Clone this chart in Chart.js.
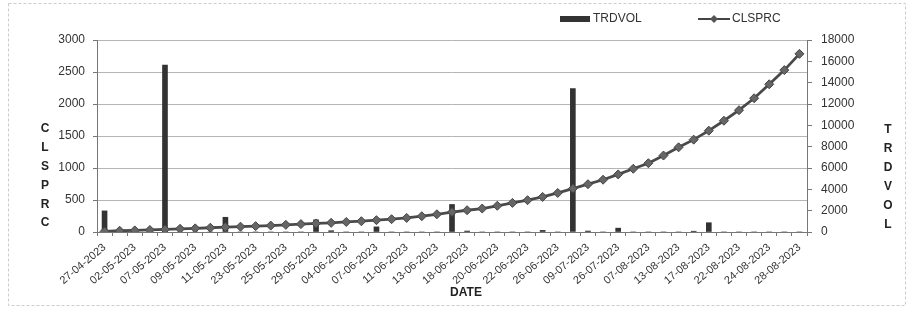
<!DOCTYPE html>
<html>
<head>
<meta charset="utf-8">
<script src="https://cdn.jsdelivr.net/npm/chart.js@4"></script>
<style>
  html, body { margin: 0; padding: 0; background: #fff; }
  canvas { display: block; }
</style>
</head>
<body>
<canvas id="chart" width="913" height="311"></canvas>
<script>
const dates = [
  '27-04-2023', '28-04-2023', '02-05-2023', '03-05-2023', '07-05-2023', '08-05-2023',
  '09-05-2023', '10-05-2023', '11-05-2023', '22-05-2023', '23-05-2023', '24-05-2023',
  '25-05-2023', '28-05-2023', '29-05-2023', '31-05-2023', '04-06-2023', '06-06-2023',
  '07-06-2023', '08-06-2023', '11-06-2023', '12-06-2023', '13-06-2023', '15-06-2023',
  '18-06-2023', '19-06-2023', '20-06-2023', '21-06-2023', '22-06-2023', '25-06-2023',
  '26-06-2023', '05-07-2023', '09-07-2023', '18-07-2023', '26-07-2023', '01-08-2023',
  '07-08-2023', '10-08-2023', '13-08-2023', '15-08-2023', '17-08-2023', '20-08-2023',
  '22-08-2023', '23-08-2023', '24-08-2023', '27-08-2023', '28-08-2023'
];

const trdvol = [
  330, 0, 0, 0, 2610, 0, 0, 0, 230, 0, 0, 0,
  0, 0, 190, 20, 0, 0, 80, 0, 0, 0, 0, 430,
  15, 0, 0, 0, 0, 25, 0, 2240, 15, 0, 60, 0,
  0, 0, 0, 12, 145, 0, 0, 0, 0, 0, 0
];

const clsprc = [
  50, 120, 150, 190, 240, 300, 340, 400, 460, 500, 550, 600,
  670, 740, 800, 860, 940, 1010, 1110, 1200, 1320, 1480, 1660, 1870,
  2040, 2200, 2460, 2730, 2980, 3290, 3660, 4070, 4480, 4900, 5400, 5930,
  6450, 7170, 7940, 8660, 9500, 10430, 11420, 12540, 13850, 15180, 16700
];

const leftTicks = [0, 500, 1000, 1500, 2000, 2500, 3000];
const rightTicks = [0, 2000, 4000, 6000, 8000, 10000, 12000, 14000, 16000, 18000];

const FONT = 'Liberation Sans';

// axis titles as stacked letters + legend, like the excel original
const extras = {
  id: 'extras',
  afterDraw(chart) {
    const ctx = chart.ctx;
    ctx.save();
    ctx.fillStyle = '#222';
    ctx.font = 'bold 12px ' + FONT;
    ctx.textAlign = 'center';
    ctx.textBaseline = 'middle';
    'CLSPRC'.split('').forEach((ch, i) => ctx.fillText(ch, 45, 129 + i * 18.8));
    'TRDVOL'.split('').forEach((ch, i) => ctx.fillText(ch, 888, 130 + i * 19));
    ctx.fillText('DATE', 466, 293);

    // legend
    ctx.fillStyle = '#333';
    ctx.fillRect(560, 16, 30, 6);
    ctx.strokeStyle = '#444';
    ctx.lineWidth = 2;
    ctx.beginPath();
    ctx.moveTo(698, 19);
    ctx.lineTo(730, 19);
    ctx.stroke();
    ctx.fillStyle = '#555';
    ctx.beginPath();
    ctx.moveTo(714, 15);
    ctx.lineTo(718, 19);
    ctx.lineTo(714, 23);
    ctx.lineTo(710, 19);
    ctx.closePath();
    ctx.fill();
    ctx.fillStyle = '#333';
    ctx.font = '12px ' + FONT;
    ctx.textAlign = 'left';
    ctx.fillText('TRDVOL', 593, 19);
    ctx.fillText('CLSPRC', 732, 19);

    // outer frame of the chart
    ctx.strokeStyle = '#ccc';
    ctx.lineWidth = 1;
    ctx.setLineDash([3, 2]);
    ctx.strokeRect(8.5, 3.5, 897, 302);
    ctx.restore();
  }
};

new Chart(document.getElementById('chart'), {
  type: 'bar',
  data: {
    labels: dates,
    datasets: [
      {
        type: 'line',
        label: 'CLSPRC',
        data: clsprc,
        yAxisID: 'y1',
        borderColor: '#4a4a4a',
        borderWidth: 2.8,
        pointStyle: 'rectRot',
        pointRadius: 4.5,
        pointBackgroundColor: '#666',
        pointBorderColor: '#444',
        pointBorderWidth: 1,
        tension: 0,
        order: 0
      },
      {
        label: 'TRDVOL',
        data: trdvol,
        yAxisID: 'y',
        backgroundColor: '#333',
        barThickness: 5,
        order: 1
      }
    ]
  },
  options: {
    responsive: false,
    animation: false,
    layout: { padding: { top: 40, left: 0, right: 0, bottom: 0 } },
    plugins: {
      legend: { display: false },
      tooltip: { enabled: false }
    },
    scales: {
      x: {
        grid: { drawOnChartArea: false, drawTicks: true, tickLength: 4, color: '#777' },
        border: { display: true, color: '#777' },
        ticks: {
          autoSkip: false,
          minRotation: 40,
          maxRotation: 40,
          padding: 5,
          color: '#333',
          font: { family: FONT, size: 11 },
          callback: (v, i) => (i % 2 === 0 ? dates[i] : '')
        },
        afterFit: (s) => { s.height = 79; }
      },
      y: {
        position: 'left',
        min: 0,
        max: 3000,
        afterBuildTicks: (s) => { s.ticks = leftTicks.map(v => ({ value: v })); },
        grid: { color: '#b5b5b5', tickLength: 4, tickColor: '#777' },
        border: { display: true, color: '#777' },
        ticks: {
          color: '#333', padding: 8, font: { family: FONT, size: 12 },
          callback: (v) => String(v)
        },
        afterFit: (s) => { s.width = 97; }
      },
      y1: {
        position: 'right',
        min: 0,
        max: 18000,
        afterBuildTicks: (s) => { s.ticks = rightTicks.map(v => ({ value: v })); },
        grid: { drawOnChartArea: false, tickLength: 5, color: '#777' },
        border: { display: true, color: '#777' },
        ticks: {
          color: '#333', padding: 9, font: { family: FONT, size: 12 },
          callback: (v) => String(v)
        },
        afterFit: (s) => { s.width = 106; }
      }
    }
  },
  plugins: [extras]
});
</script>
</body>
</html>
